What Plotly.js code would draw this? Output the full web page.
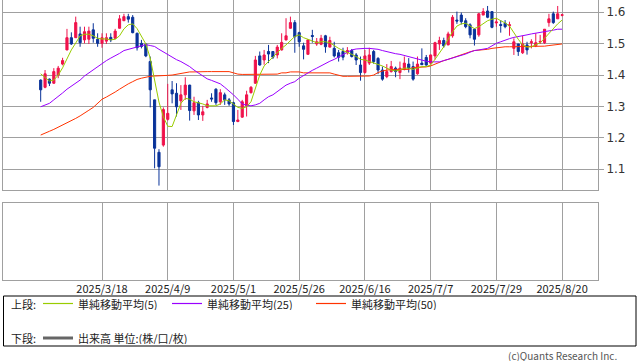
<!DOCTYPE html>
<html><head><meta charset="utf-8">
<script src="https://cdn.plot.ly/plotly-3.0.1.min.js"></script>
<style>html,body{margin:0;padding:0;background:#fff;}#chart{width:638px;height:362px;}</style>
</head><body><div id="chart"></div>
<script>
const dates = ["2/26","2/27","2/28","3/3","3/4","3/5","3/6","3/7","3/10","3/11","3/12","3/13","3/14","3/17","3/18","3/19","3/21","3/24","3/25","3/26","3/27","3/28","3/31","4/1","4/2","4/3","4/4","4/7","4/8","4/9","4/10","4/11","4/14","4/15","4/16","4/17","4/18","4/21","4/22","4/23","4/24","4/25","4/28","4/30","5/1","5/2","5/7","5/8","5/9","5/12","5/13","5/14","5/15","5/16","5/19","5/20","5/21","5/22","5/23","5/26","5/27","5/28","5/29","5/30","6/2","6/3","6/4","6/5","6/6","6/9","6/10","6/11","6/12","6/13","6/16","6/17","6/18","6/19","6/20","6/23","6/24","6/25","6/26","6/27","6/30","7/1","7/2","7/3","7/4","7/7","7/8","7/9","7/10","7/11","7/14","7/15","7/16","7/17","7/18","7/22","7/23","7/24","7/25","7/28","7/29","7/30","7/31","8/1","8/4","8/5","8/6","8/7","8/8","8/12","8/13","8/14","8/15","8/18","8/19","8/20"].map(d => "2025/" + d);

const openP = [1.384,1.361,1.387,1.374,1.400,1.435,1.480,1.519,1.519,1.531,1.512,1.514,1.544,1.514,1.501,1.508,1.520,1.517,1.549,1.573,1.586,1.584,1.533,1.501,1.498,1.443,1.321,1.154,1.177,1.259,1.353,1.342,1.318,1.337,1.368,1.286,1.312,1.273,1.297,1.327,1.355,1.315,1.337,1.321,1.312,1.252,1.266,1.302,1.344,1.374,1.461,1.448,1.475,1.475,1.464,1.480,1.512,1.549,1.567,1.535,1.493,1.466,1.526,1.499,1.498,1.525,1.489,1.485,1.471,1.475,1.471,1.478,1.464,1.432,1.408,1.438,1.475,1.453,1.416,1.395,1.411,1.422,1.408,1.418,1.435,1.427,1.404,1.438,1.456,1.438,1.461,1.499,1.510,1.496,1.525,1.575,1.591,1.573,1.560,1.546,1.528,1.591,1.604,1.602,1.566,1.561,1.565,1.557,1.485,1.499,1.471,1.496,1.503,1.493,1.505,1.503,1.567,1.595,1.579,1.590];
const highP = [1.386,1.416,1.389,1.422,1.429,1.455,1.547,1.536,1.586,1.554,1.554,1.554,1.565,1.533,1.533,1.533,1.533,1.547,1.591,1.595,1.595,1.591,1.535,1.512,1.501,1.459,1.321,1.164,1.297,1.372,1.381,1.374,1.368,1.393,1.369,1.331,1.318,1.302,1.321,1.342,1.358,1.355,1.344,1.327,1.315,1.289,1.321,1.350,1.365,1.461,1.475,1.480,1.496,1.476,1.496,1.533,1.581,1.586,1.575,1.538,1.503,1.514,1.544,1.518,1.528,1.528,1.522,1.506,1.480,1.487,1.489,1.483,1.470,1.459,1.480,1.487,1.480,1.457,1.427,1.435,1.445,1.427,1.443,1.459,1.454,1.443,1.459,1.485,1.464,1.465,1.506,1.522,1.519,1.538,1.591,1.602,1.599,1.581,1.565,1.549,1.598,1.613,1.620,1.602,1.581,1.575,1.575,1.570,1.517,1.499,1.525,1.506,1.514,1.533,1.528,1.546,1.595,1.602,1.620,1.595];
const lowP = [1.315,1.358,1.365,1.372,1.390,1.431,1.479,1.496,1.518,1.490,1.501,1.499,1.503,1.490,1.487,1.499,1.505,1.514,1.548,1.572,1.567,1.533,1.478,1.485,1.457,1.297,1.103,1.048,1.172,1.255,1.310,1.268,1.289,1.321,1.255,1.273,1.257,1.254,1.294,1.315,1.305,1.305,1.305,1.302,1.241,1.250,1.264,1.268,1.341,1.372,1.430,1.433,1.438,1.451,1.453,1.478,1.510,1.548,1.471,1.490,1.450,1.466,1.503,1.493,1.495,1.471,1.488,1.456,1.443,1.447,1.465,1.456,1.432,1.382,1.405,1.432,1.436,1.403,1.382,1.390,1.408,1.393,1.387,1.415,1.408,1.382,1.401,1.432,1.430,1.436,1.449,1.480,1.487,1.495,1.519,1.563,1.561,1.549,1.517,1.494,1.522,1.591,1.581,1.549,1.554,1.535,1.549,1.525,1.464,1.461,1.467,1.465,1.485,1.489,1.499,1.499,1.554,1.563,1.579,1.587];
const closeP = [1.353,1.404,1.374,1.411,1.422,1.446,1.519,1.499,1.567,1.503,1.538,1.540,1.517,1.501,1.519,1.519,1.512,1.540,1.579,1.586,1.578,1.535,1.487,1.491,1.461,1.353,1.167,1.108,1.290,1.278,1.340,1.299,1.337,1.368,1.287,1.312,1.273,1.283,1.308,1.324,1.312,1.344,1.321,1.308,1.252,1.257,1.315,1.337,1.361,1.448,1.432,1.464,1.467,1.457,1.489,1.504,1.525,1.567,1.522,1.506,1.482,1.512,1.523,1.506,1.517,1.490,1.510,1.461,1.457,1.457,1.478,1.459,1.448,1.408,1.461,1.464,1.443,1.416,1.387,1.411,1.427,1.411,1.422,1.438,1.422,1.387,1.435,1.433,1.432,1.464,1.503,1.510,1.493,1.531,1.584,1.572,1.570,1.554,1.528,1.514,1.595,1.602,1.584,1.552,1.569,1.558,1.554,1.560,1.506,1.475,1.499,1.480,1.506,1.503,1.507,1.546,1.579,1.567,1.595,1.592];

const ma5 = [1.404,1.391,1.381,1.384,1.400,1.423,1.454,1.480,1.502,1.525,1.530,1.530,1.525,1.517,1.515,1.515,1.512,1.514,1.525,1.547,1.560,1.563,1.548,1.521,1.499,1.454,1.384,1.314,1.267,1.237,1.236,1.273,1.310,1.326,1.323,1.315,1.312,1.308,1.302,1.302,1.302,1.308,1.321,1.318,1.308,1.297,1.294,1.299,1.315,1.359,1.400,1.429,1.443,1.458,1.474,1.485,1.496,1.511,1.523,1.528,1.519,1.514,1.509,1.503,1.506,1.506,1.503,1.493,1.485,1.478,1.473,1.466,1.459,1.450,1.448,1.443,1.438,1.435,1.429,1.422,1.416,1.413,1.416,1.422,1.422,1.418,1.422,1.427,1.427,1.432,1.450,1.469,1.490,1.514,1.538,1.556,1.563,1.565,1.556,1.548,1.554,1.565,1.573,1.578,1.581,1.573,1.566,1.556,1.533,1.514,1.496,1.489,1.490,1.496,1.503,1.517,1.533,1.549,1.563,1.575];
const ma25 = [1.299,1.305,1.310,1.321,1.331,1.343,1.355,1.364,1.374,1.384,1.397,1.407,1.416,1.427,1.438,1.446,1.454,1.461,1.469,1.478,1.482,1.486,1.490,1.494,1.497,1.494,1.491,1.482,1.474,1.465,1.456,1.449,1.443,1.435,1.427,1.416,1.406,1.396,1.388,1.383,1.377,1.372,1.361,1.350,1.337,1.323,1.308,1.304,1.302,1.305,1.310,1.321,1.331,1.337,1.347,1.358,1.368,1.374,1.379,1.390,1.399,1.408,1.415,1.422,1.430,1.438,1.444,1.450,1.457,1.464,1.472,1.480,1.483,1.485,1.485,1.485,1.484,1.482,1.478,1.474,1.471,1.468,1.466,1.462,1.459,1.454,1.450,1.446,1.444,1.442,1.442,1.442,1.446,1.450,1.454,1.459,1.463,1.467,1.473,1.478,1.480,1.483,1.485,1.493,1.501,1.506,1.512,1.516,1.520,1.522,1.525,1.528,1.531,1.533,1.535,1.538,1.540,1.543,1.546,1.546];
const ma50 = [1.209,1.216,1.221,1.227,1.234,1.239,1.247,1.255,1.262,1.270,1.278,1.288,1.297,1.310,1.323,1.330,1.337,1.346,1.355,1.364,1.372,1.379,1.386,1.390,1.394,1.396,1.397,1.397,1.398,1.399,1.400,1.403,1.406,1.408,1.410,1.410,1.411,1.411,1.411,1.411,1.411,1.411,1.411,1.411,1.407,1.403,1.402,1.402,1.402,1.403,1.403,1.403,1.403,1.403,1.403,1.407,1.407,1.410,1.410,1.410,1.407,1.407,1.407,1.407,1.407,1.407,1.407,1.403,1.399,1.396,1.396,1.396,1.396,1.396,1.396,1.397,1.400,1.408,1.413,1.416,1.418,1.418,1.418,1.418,1.418,1.424,1.424,1.424,1.426,1.429,1.435,1.441,1.446,1.450,1.455,1.461,1.465,1.469,1.474,1.478,1.479,1.481,1.482,1.485,1.487,1.489,1.490,1.490,1.490,1.490,1.490,1.490,1.490,1.490,1.490,1.492,1.494,1.496,1.497,1.499];

const tickDates = ["2025/3/18","2025/4/9","2025/5/1","2025/5/26","2025/6/16","2025/7/7","2025/7/29","2025/8/20"];
const yTicks = [1.1,1.2,1.3,1.4,1.5,1.6];

const RED = '#f0124b', BLUE = '#0a3399', GRID = '#a0a0a0';
const C5 = '#99cc00', C25 = '#9a00ff', C50 = '#ff3300';
const FONT = '"Noto Sans CJK JP", "Noto Sans", sans-serif';

const traces = [
  {type:'scatter', mode:'lines', x:dates, y:ma50, line:{color:C50, width:1}, hoverinfo:'skip', xaxis:'x', yaxis:'y'},
  {type:'scatter', mode:'lines', x:dates, y:ma25, line:{color:C25, width:1}, hoverinfo:'skip', xaxis:'x', yaxis:'y'},
  {type:'scatter', mode:'lines', x:dates, y:ma5, line:{color:C5, width:1}, hoverinfo:'skip', xaxis:'x', yaxis:'y'},
  {type:'candlestick', x:dates, open:openP, high:highP, low:lowP, close:closeP,
   increasing:{line:{color:RED, width:1}, fillcolor:RED},
   decreasing:{line:{color:BLUE, width:1}, fillcolor:BLUE},
   whiskerwidth:0, hoverinfo:'skip', xaxis:'x', yaxis:'y'},
  {type:'scatter', mode:'lines', x:dates, y:dates.map(() => null), line:{width:0}, hoverinfo:'skip', xaxis:'x2', yaxis:'y2'}
];

const W = 595, H = 280, L = 3;
const px = v => (v - L) / W;
const py = v => (H - v) / H;

const shapes = [
  {type:'rect', xref:'paper', yref:'paper', x0:px(3.5), x1:px(636), y0:py(296), y1:py(346), line:{color:'#000', width:1}},
  {type:'line', xref:'paper', yref:'paper', x0:px(43), x1:px(73), y0:py(303.5), y1:py(303.5), line:{color:C5, width:1.2}},
  {type:'line', xref:'paper', yref:'paper', x0:px(172), x1:px(202), y0:py(303.5), y1:py(303.5), line:{color:C25, width:1.2}},
  {type:'line', xref:'paper', yref:'paper', x0:px(316), x1:px(346), y0:py(303.5), y1:py(303.5), line:{color:C50, width:1.2}},
  {type:'line', xref:'paper', yref:'paper', x0:px(43), x1:px(73), y0:py(338), y1:py(338), line:{color:'#666', width:3}}
];
const ann = (x, y, t, extra) => Object.assign({xref:'paper', yref:'paper', x:px(x), y:py(y), text:t, showarrow:false, xanchor:'left', yanchor:'middle', height:12, borderpad:0, valign:'middle', font:{family:FONT, size:11, color:'#222'}}, extra||{});
const annotations = [
  ann(10, 304, '上段:'),
  ann(77, 304, '単純移動平均(5)'),
  ann(206, 304, '単純移動平均(25)'),
  ann(350, 304, '単純移動平均(50)'),
  ann(10, 338, '下段:'),
  ann(77, 338, '出来高 単位:(株/口/枚)'),
  ann(618, 355, '(c)Quants Research Inc.', {xanchor:'right', font:{family:FONT, size:10, color:'#555'}})
];

const xr = [-8.6, 127.2];
const layout = {
  width:638, height:362, margin:{l:L, r:40, t:0, b:82},
  paper_bgcolor:'#fff', plot_bgcolor:'#fff', showlegend:false,
  font:{family:FONT, size:11, color:'#222'},
  xaxis:{type:'category', range:xr, domain:[0,1], anchor:'y', tickvals:tickDates, showticklabels:false,
         showgrid:true, gridcolor:GRID, gridwidth:1, ticks:'', showline:true, linecolor:GRID, mirror:true,
         rangeslider:{visible:false}, fixedrange:true},
  yaxis:{domain:[(H-190)/H, 1], range:[1.034, 1.639], side:'right', tickvals:yTicks, ticktext:yTicks.map(v=>v.toFixed(1)),
         showgrid:true, gridcolor:GRID, gridwidth:1, ticks:'outside', ticklen:5, tickcolor:GRID,
         showline:true, linecolor:GRID, mirror:true, zeroline:false, tickfont:{family:'"DejaVu Sans", sans-serif', size:12, color:'#333'}},
  xaxis2:{type:'category', categoryorder:'array', categoryarray:dates, range:xr, domain:[0,1], anchor:'y2',
          tickmode:'array', tickvals:tickDates, ticktext:tickDates, ticklabelstandoff:-1,
          showgrid:true, gridcolor:GRID, gridwidth:1, ticks:'', showline:true, linecolor:GRID, mirror:true,
          tickfont:{family:FONT, size:11, color:'#222'}, fixedrange:true},
  yaxis2:{domain:[0, (H-203)/H], range:[0,1], showgrid:false, showticklabels:false, ticks:'', zeroline:false,
          showline:true, linecolor:GRID, mirror:true},
  shapes:shapes, annotations:annotations
};
Plotly.newPlot('chart', traces, layout, {staticPlot:true, displayModeBar:false});
</script></body></html>
